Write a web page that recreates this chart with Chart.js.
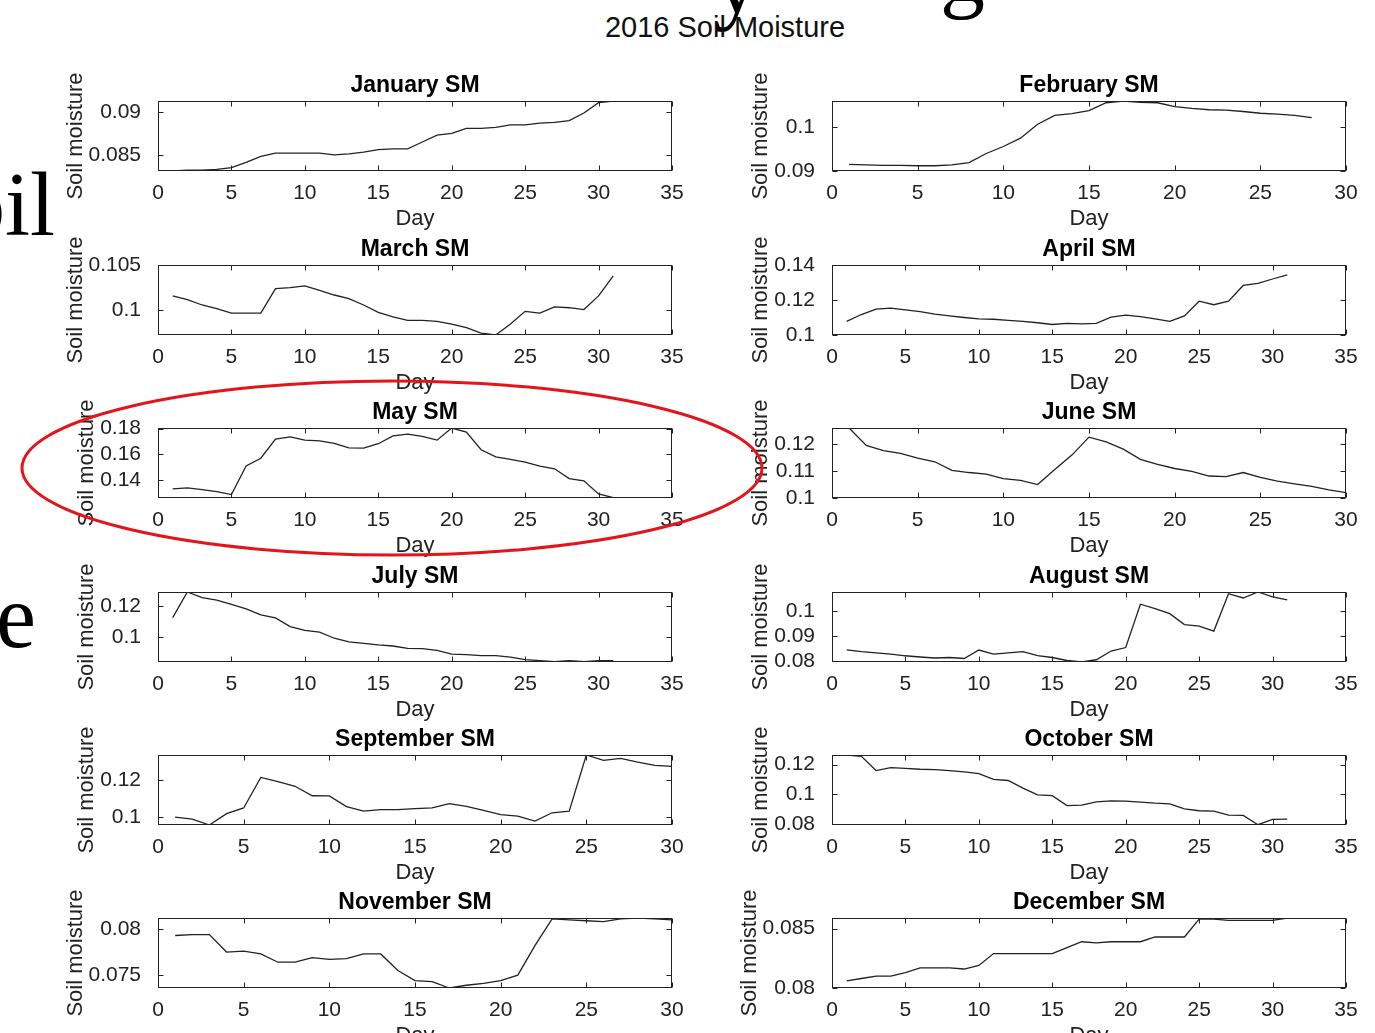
<!DOCTYPE html>
<html>
<head>
<meta charset="utf-8">
<title>2016 Soil Moisture</title>
<script src="https://cdn.jsdelivr.net/npm/chart.js@4.4.0/dist/chart.umd.min.js"></script>
<style>
  body { margin: 0; width: 1375px; height: 1033px; overflow: hidden; background: #fff; position: relative; font-family: "Liberation Sans", Arial, sans-serif; }
  canvas { position: absolute; }
  .slide { position: absolute; font-family: "Liberation Serif", "Times New Roman", serif; font-size: 90px; line-height: 1; color: #000; white-space: nowrap; }
  #tituloGeral { position: absolute; left: 525px; width: 400px; top: 13px; text-align: center; font-size: 29px; color: #111; line-height: 1; }
  #anotacao { position: absolute; left: 0; top: 0; pointer-events: none; }
</style>
</head>
<body>

<!-- restos do slide por tras do grafico -->
<div class="slide" style="left:-200px; width:255px; text-align:right; top:160px;">Soil</div>
<div class="slide" style="left:-4px; top:572px;">e</div>
<div class="slide" style="left:714px; top:-62px;">y</div>
<div class="slide" style="left:940px; top:-74px;">g</div>

<div id="tituloGeral">2016 Soil Moisture</div>

<div id="graficos"></div>

<svg id="anotacao" width="1375" height="1033">
  <ellipse cx="392" cy="468" rx="370" ry="87" fill="none" stroke="#e3151b" stroke-width="3"/>
</svg>

<script>
// ===============================
// Dados
// ===============================
const meses = ['January', 'February', 'March', 'April', 'May', 'June',
  'July', 'August', 'September', 'October', 'November', 'December'];

const smJan = [0.0831,0.0832,0.0832,0.0833,0.0835,0.0841,0.0848,0.0852,0.0852,0.0852,0.0852,0.0850,0.0851,0.0853,0.0856,0.0857,0.0857,0.0865,0.0873,0.0875,0.0881,0.0881,0.0882,0.0885,0.0885,0.0887,0.0888,0.0890,0.0899,0.0911,0.0913];
const smFev = [0.0915,0.0914,0.0913,0.0913,0.0912,0.0912,0.0914,0.0919,0.0940,0.0956,0.0975,0.1007,0.1027,0.1031,0.1038,0.1056,0.1060,0.1057,0.1056,0.1047,0.1043,0.1040,0.1039,0.1036,0.1032,0.1030,0.1027,0.1022];
const smMar = [0.1016,0.1012,0.1006,0.1002,0.0997,0.0997,0.0997,0.1024,0.1025,0.1027,0.1022,0.1017,0.1013,0.1006,0.0998,0.0993,0.0989,0.0989,0.0988,0.0985,0.0981,0.0975,0.0973,0.0985,0.0999,0.0997,0.1004,0.1003,0.1001,0.1016,0.1038];
const smAbr = [0.1078,0.1117,0.1148,0.1154,0.1144,0.1133,0.1119,0.1109,0.1100,0.1092,0.1090,0.1084,0.1078,0.1070,0.1060,0.1066,0.1064,0.1066,0.1102,0.1113,0.1105,0.1092,0.1078,0.1109,0.1193,0.1173,0.1193,0.1283,0.1295,0.1320,0.1343];
const smMai = [0.1329,0.1337,0.1324,0.1308,0.1285,0.1508,0.1569,0.1718,0.1736,0.1710,0.1705,0.1684,0.1650,0.1648,0.1682,0.1744,0.1757,0.1739,0.1710,0.1805,0.1773,0.1635,0.1580,0.1559,0.1538,0.1507,0.1486,0.1410,0.1392,0.1290,0.1261];
const smJun = [0.1261,0.1196,0.1177,0.1166,0.1149,0.1135,0.1103,0.1095,0.1089,0.1072,0.1066,0.1050,0.1106,0.1160,0.1227,0.1209,0.1182,0.1144,0.1125,0.1110,0.1099,0.1082,0.1080,0.1095,0.1077,0.1063,0.1053,0.1043,0.1030,0.1020];
const smJul = [0.1127,0.1292,0.1256,0.1239,0.1213,0.1183,0.1144,0.1125,0.1069,0.1045,0.1034,0.0994,0.0970,0.0961,0.0951,0.0944,0.0929,0.0927,0.0916,0.0892,0.0888,0.0882,0.0882,0.0873,0.0856,0.0850,0.0843,0.0850,0.0843,0.0850,0.0850];
const smAgo = [0.0844,0.0837,0.0832,0.0827,0.0820,0.0815,0.0811,0.0813,0.0809,0.0843,0.0827,0.0832,0.0837,0.0821,0.0813,0.0801,0.0795,0.0804,0.0839,0.0853,0.1027,0.1009,0.0989,0.0945,0.0939,0.0919,0.1069,0.1052,0.1076,0.1056,0.1044];
const smSet = [0.1000,0.0989,0.0957,0.1018,0.1049,0.1214,0.1191,0.1166,0.1115,0.1114,0.1056,0.1032,0.1040,0.1040,0.1045,0.1050,0.1072,0.1058,0.1036,0.1013,0.1005,0.0978,0.1023,0.1032,0.1335,0.1306,0.1317,0.1296,0.1279,0.1274];
const smOut = [0.1265,0.1256,0.1160,0.1180,0.1175,0.1169,0.1167,0.1160,0.1151,0.1140,0.1100,0.1093,0.1042,0.0996,0.0991,0.0924,0.0927,0.0949,0.0956,0.0954,0.0947,0.0940,0.0936,0.0902,0.0889,0.0887,0.0860,0.0858,0.0795,0.0831,0.0833];
const smNov = [0.0793,0.0794,0.0794,0.0775,0.0776,0.0773,0.0764,0.0764,0.0769,0.0767,0.0768,0.0773,0.0773,0.0755,0.0744,0.0743,0.0736,0.0739,0.0741,0.0744,0.0750,0.0782,0.0811,0.0810,0.0809,0.0808,0.0811,0.0812,0.0811,0.0810];
const smDez = [0.0806,0.0808,0.0810,0.0810,0.0813,0.0817,0.0817,0.0817,0.0816,0.0819,0.0829,0.0829,0.0829,0.0829,0.0829,0.0834,0.0839,0.0838,0.0839,0.0839,0.0839,0.0843,0.0843,0.0843,0.0858,0.0858,0.0857,0.0857,0.0857,0.0857,0.0859];

const series = [smJan, smFev, smMar, smAbr, smMai, smJun, smJul, smAgo, smSet, smOut, smNov, smDez];

// limites dos eixos, como aparecem no grafico
const yMin = [0.0831, 0.09, 0.0973, 0.1, 0.1258, 0.1, 0.0841, 0.0795, 0.0957, 0.0793, 0.0736, 0.08];
const yMax = [0.0913, 0.106, 0.105, 0.14, 0.1805, 0.1261, 0.1292, 0.1076, 0.1335, 0.1265, 0.0812, 0.0859];
const xMax = [35, 30, 35, 35, 35, 30, 35, 35, 30, 35, 30, 35];

// marcas do eixo y de cada mes
const yTicks = [
  [0.085, 0.09], [0.09, 0.1], [0.1, 0.105], [0.1, 0.12, 0.14],
  [0.14, 0.16, 0.18], [0.1, 0.11, 0.12], [0.1, 0.12], [0.08, 0.09, 0.1],
  [0.1, 0.12], [0.08, 0.1, 0.12], [0.075, 0.08], [0.08, 0.085]
];

// ===============================
// Layout (px)
// ===============================
const colEsq = [158, 832];
const topoLinha = [101, 265, 428, 592, 755, 918];
const FONTE = '"Liberation Sans", Arial, sans-serif';
const COR = '#222';

// moldura estilo MATLAB: caixa + marcas para dentro + textos
const molduraPlugin = {
  id: 'moldura',
  afterDatasetsDraw(chart, args, opts) {
    const { ctx, chartArea: a, scales: { x, y } } = chart;
    const L = Math.round(a.left) + 0.5, R = Math.round(a.right) - 0.5;
    const T = Math.round(a.top) + 0.5, B = Math.round(a.bottom) - 0.5;
    const tam = 5;
    ctx.save();
    ctx.strokeStyle = COR;
    ctx.lineWidth = 1;
    ctx.strokeRect(L, T, R - L, B - T);
    ctx.beginPath();
    x.ticks.forEach(t => {
      const px = Math.round(x.getPixelForValue(t.value)) + 0.5;
      ctx.moveTo(px, B); ctx.lineTo(px, B - tam);
      ctx.moveTo(px, T); ctx.lineTo(px, T + tam);
    });
    y.ticks.forEach(t => {
      const py = Math.round(y.getPixelForValue(t.value)) + 0.5;
      ctx.moveTo(L, py); ctx.lineTo(L + tam, py);
      ctx.moveTo(R, py); ctx.lineTo(R - tam, py);
    });
    ctx.stroke();

    // titulo do mes
    ctx.fillStyle = '#000';
    ctx.font = 'bold 23px ' + FONTE;
    ctx.textAlign = 'center';
    ctx.textBaseline = 'middle';
    ctx.fillText(opts.titulo, (a.left + a.right) / 2, a.top - 15);

    // rotulo do eixo x
    ctx.fillStyle = COR;
    ctx.font = '22px ' + FONTE;
    ctx.fillText('Day', (a.left + a.right) / 2, a.bottom + 48);

    // rotulo do eixo y, a esquerda dos numeros
    ctx.font = '21px ' + FONTE;
    const largura = Math.max(...y.ticks.map(t => ctx.measureText(t.label).width));
    const xl = a.left - 9 - largura - 10 - 11;
    ctx.translate(xl, (a.top + a.bottom) / 2);
    ctx.rotate(-Math.PI / 2);
    ctx.font = '22px ' + FONTE;
    ctx.fillText('Soil moisture', 0, 0);
    ctx.restore();
  }
};

function formatar(v) {
  return String(parseFloat(v.toFixed(4)));
}

function criarGrafico(i) {
  const col = i % 2, lin = Math.floor(i / 2);
  const canvas = document.createElement('canvas');
  canvas.width = 654;
  canvas.height = 180;
  canvas.style.left = (colEsq[col] - 110) + 'px';
  canvas.style.top = (topoLinha[lin] - 45) + 'px';
  document.getElementById('graficos').appendChild(canvas);

  const pontos = series[i].map((v, d) => ({ x: d + 1, y: v }));

  new Chart(canvas.getContext('2d'), {
    type: 'line',
    data: {
      datasets: [{
        data: pontos,
        borderColor: '#222',
        borderWidth: 1.3,
        pointRadius: 0,
        tension: 0,
        fill: false
      }]
    },
    options: {
      responsive: false,
      animation: false,
      events: [],
      layout: { padding: { left: 10, right: 30, top: 45, bottom: 25 } },
      plugins: {
        legend: { display: false },
        tooltip: { enabled: false },
        moldura: { titulo: meses[i] + ' SM' }
      },
      scales: {
        x: {
          type: 'linear',
          min: 0,
          max: xMax[i],
          grid: { display: false },
          border: { display: false },
          ticks: { stepSize: 5, maxRotation: 0, padding: 2, color: COR, font: { family: FONTE, size: 21 } },
          afterFit: s => { s.height = 40; }
        },
        y: {
          type: 'linear',
          min: yMin[i],
          max: yMax[i],
          grid: { display: false },
          border: { display: false },
          afterBuildTicks: s => { s.ticks = yTicks[i].map(v => ({ value: v })); },
          ticks: { padding: 9, color: COR, font: { family: FONTE, size: 21 }, callback: v => formatar(v) },
          afterFit: s => { s.width = 100; }
        }
      }
    },
    plugins: [molduraPlugin]
  });
}

window.addEventListener('DOMContentLoaded', () => {
  meses.forEach((m, i) => criarGrafico(i));
});
</script>
</body>
</html>
